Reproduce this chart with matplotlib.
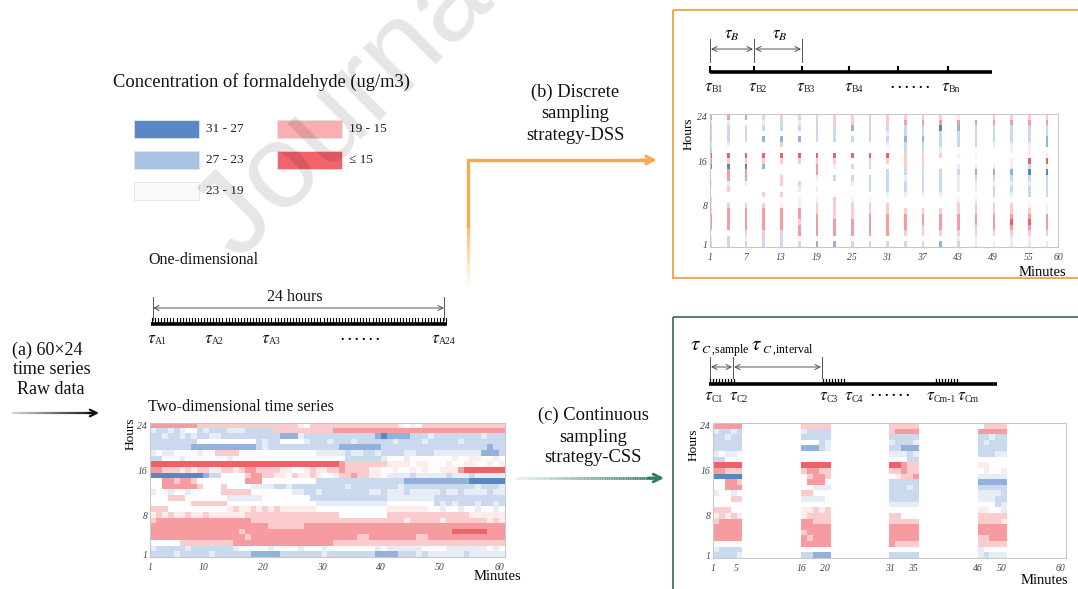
import numpy as np
import matplotlib
matplotlib.use('Agg')
import matplotlib.pyplot as plt
from matplotlib.colors import LinearSegmentedColormap, Normalize, to_rgba
from matplotlib.collections import LineCollection
from matplotlib.patches import Rectangle

plt.rcParams['font.family'] = ['Liberation Serif', 'DejaVu Serif']
plt.rcParams['mathtext.fontset'] = 'stix'

W, H = 1078, 589

# ---- data: formaldehyde concentration, 24 hours x 60 minutes ----
# one letter per minute, hour 24 on top ... hour 1 at the bottom
level_values = {'R': 14.0, 'r': 16.5, 'p': 18.5, 'q': 20.0, 'w': 21.0,
                'm': 22.5, 'l': 24.0, 'b': 26.5, 'B': 29.5}
raw_rows = [
    "rrrrrrrrpp pppppppppp pppppqwppp pppppppppp ppqwqwpppp pppppppppp",  # 24
    "mllmlmwwlm lllmmmllll lppppppppp prrrrrrrrr rrrrrrrrrr rrrrrrrrrr",  # 23
    "llmllmlmll mmllllllll llbbbmllll llllllllbB bbbblllmll llllllmlll",  # 22
    "llllllllww wwwwwwwwlm llwwwwmlll mlllmlllll lmllllmlll llmlllllll",  # 21
    "lllllllbbb bbbbbbbblm llllllllll llbbbbbbbl llllllllll lllllllbll",  # 20
    "mwmmwwwwmw wppppwwwww wwwwwwwwmm mmmlmmllml lllmmlllmm mmmmmmbbbl",  # 19
    "llwwwmwwww wwwmwwwwww wwwwwwwwww wwwllllllm wwwmwwwwww wqwwqqwwqw",  # 18
    "RRRRRRRRRR RRRRRRRRRR RRRRRRRRRR RRrppppppp qqqqwqqwww qwwqqwwqwq",  # 17
    "rrpppqpqpp qqppqprrpp ppqqwwqpqq pprppppqqw wqwwqwqwwq qqrRRRRRRR",  # 16
    "BBBBBBBBBb llwwwwprrp pqqwpqqpqw wqpprppqqw mmmmlmmmmm lmmmlmmmmm",  # 15
    "wwrrprrpww wwwwwwrrrw wwwwwwwwll llllllllll lllbbbbbbb bbbbBBBBBB",  # 14
    "wwrrrrrrpw wwpwwwwmmm mllmllllll lllmllllll llmlllllll lllllmlllm",  # 13
    "mwwmwwmwww wwpppppwww wwwwmmllml lllllllmml mmmlmmmmml mmlmmmmlmm",  # 12
    "wwwpppwwww wwwmmmmmmw wwwwwwwlll llllllllll mmmmmmmmll llllllllll",  # 11
    "wwwwwwwppp pppwwwwwww wwwwwwwwmm mmmmmmmmmm wwwwwwwwlm lmlllmllml",  # 10
    "pppwwwwwww wwwqpqqpqp qpqqqqqqww wwwwwwwwww qqqqqqqwwm wwmwwmwwmw",  # 9
    "qpqpqqpqqp qqqqqqpppp pppppppppp ppwwwwwwww pppppppppp ppppqqqqqq",  # 8
    "prrrrrrrrr rrrrrrrppp pppppppppp pppppppppp pppqpppppq pppppppqpq",  # 7
    "rrrrrrrrrr rrrrrrrrrr pppppprrrr rrrrrrrrrr rrrrrrrrrr rrrrrrrrrr",  # 6
    "rrrrrrrrrr rrrrrprrrr rrrrrrrrrr rrrrrrrrrr rrrrrrrrrr rRRRRRRrrr",  # 5
    "rrrrrrrrrr rrrrrrprrr rrrrrrrrrr rrrrrpprrr rrrrrpprrr rrrrrrrrrr",  # 4
    "wwwwwppppp pppprrrrrr rrrrrrrrrr rppppppppp pppppppppp pppppppppp",  # 3
    "mlllllmlll llllmwwwww mwwwwmwwwm wwwwwwwwmw mmmmmmwwww mmmmmmmwmw",  # 2
    "llllmlllll mllllllbbb bblllllllm llllllllbb bblllmlmmm mmmlmmmmmm",  # 1
]
legend_labels = ['31 - 27', '27 - 23', '23 - 19', '19 - 15', '\u2264 15']
legend_colors = ['#5a88c6', '#a9c2e3', '#f8f9fc', '#f9aeb1', '#f0646a']
dss_minutes = list(range(1, 61, 3))
css_blocks = [(1, 5), (16, 20), (31, 35), (46, 50)]
main_xticks = [1, 10, 20, 30, 40, 50, 60]
dss_xticks = [1, 7, 13, 19, 25, 31, 37, 43, 49, 55, 60]
css_xticks = [1, 5, 16, 20, 31, 35, 46, 50, 60]
hour_ticks = [1, 8, 16, 24]

Z = np.array([[level_values[c] for c in row.replace(' ', '')] for row in raw_rows])

stops = [13, 15, 17, 19.5, 21, 22.5, 25, 28, 31]
stop_colors = ['#ec4f58', '#f27479', '#f8aaae', '#fde3e4', '#ffffff',
               '#e8eef7', '#b8cce8', '#7399cf', '#4574b8']
cmap = LinearSegmentedColormap.from_list(
    'conc', [((s - 13) / 18, c) for s, c in zip(stops, stop_colors)])
cmap.set_bad('white')
norm = Normalize(13, 31)

fig = plt.figure(figsize=(W / 100, H / 100), dpi=100)
ax0 = fig.add_axes([0, 0, 1, 1])
ax0.set_xlim(0, W)
ax0.set_ylim(H, 0)
ax0.axis('off')


def px_axes(x0, y0, x1, y1):
    return fig.add_axes([x0 / W, 1 - y1 / H, (x1 - x0) / W, (y1 - y0) / H])


def style_heat(ax, xlim, xticks):
    ax.set_xlim(*xlim)
    ax.set_ylim(0.5, 24.5)
    ax.set_xticks(xticks)
    ax.set_yticks(hour_ticks)
    ax.tick_params(axis='x', length=0, pad=4, labelsize=7, labelcolor='#444')
    ax.tick_params(axis='y', length=0, pad=2, labelsize=7, labelcolor='#444')
    for lab in ax.get_xticklabels() + ax.get_yticklabels():
        lab.set_fontstyle('italic')
    for s in ax.spines.values():
        s.set_color('#c8c8c8')
        s.set_linewidth(0.8)


def grad_line(x0, y0, x1, y1, c0, c1, lw, n=80):
    xs = np.linspace(x0, x1, n + 1)
    ys = np.linspace(y0, y1, n + 1)
    segs = [[(xs[i], ys[i]), (xs[i + 1], ys[i + 1])] for i in range(n)]
    a, b = np.array(to_rgba(c0)), np.array(to_rgba(c1))
    t = np.linspace(0, 1, n)[:, None]
    ax0.add_collection(LineCollection(segs, colors=a + (b - a) * t,
                                      linewidths=lw, capstyle='butt'))


def darrow(xa, xb, y, color='#555555'):
    ax0.annotate('', xy=(xb, y), xytext=(xa, y),
                 arrowprops=dict(arrowstyle='<->', color=color, lw=0.7,
                                 mutation_scale=9, shrinkA=0, shrinkB=0))


def tau(x, y, sub, size=12.5, subsize=7):
    # big italic tau with a small upright subscript
    ax0.text(x, y, r'$\tau$', fontsize=size, ha='left', va='center', color='#111')
    ax0.text(x + 0.62 * size, y + 3, sub, fontsize=subsize, ha='left',
             va='center', color='#222')


# ---- legend ----
ax0.text(113, 82, 'Concentration of formaldehyde (ug/m3)', fontsize=13.3,
         ha='left', va='center', color='#111')
leg_pos = [(134, 120), (134, 151), (134, 182), (277, 120), (277, 151)]
for (x, y), lab, col in zip(leg_pos, legend_labels, legend_colors):
    ax0.add_patch(Rectangle((x, y), 65, 18, fc=col, ec='#e4e4e4', lw=0.6))
    ax0.text(x + 72, y + 9, lab, fontsize=9.5, ha='left', va='center', color='#222')

# ---- one-dimensional timeline ----
ax0.text(148, 260, 'One-dimensional', fontsize=11.5, ha='left', va='center', color='#111')
ax0.text(295, 297, '24 hours', fontsize=11.5, ha='center', va='center', color='#111')
ax0.plot([153, 153], [297, 320], color='#555', lw=0.7)
ax0.plot([444, 444], [297, 320], color='#555', lw=0.7)
darrow(153, 444, 308)
ax0.plot([151, 447], [323.5, 323.5], color='black', lw=2.6, solid_capstyle='butt')
for x in np.linspace(152, 446, 97):
    ax0.plot([x, x], [318, 323], color='black', lw=0.8)
for x, sub in [(147, 'A1'), (204, 'A2'), (261, 'A3'), (431, 'A24')]:
    tau(x, 339, sub)
ax0.text(360, 336, '. . . . . .', fontsize=10, ha='center', va='center', fontweight='bold')

# ---- (a) raw data ----
for x, y, s in [(47, 350, '(a) 60\u00d724'), (52, 370, 'time series'), (51, 390, 'Raw data')]:
    ax0.text(x, y, s, fontsize=13, ha='center', va='center', color='#111')
grad_line(12, 413, 94, 413, '#d8d8d8', '#111111', 1.6)
ax0.annotate('', xy=(99, 413), xytext=(88, 413),
             arrowprops=dict(arrowstyle='->', color='#111', lw=1.6,
                             mutation_scale=12, shrinkA=0, shrinkB=0))
ax0.text(148, 407, 'Two-dimensional time series', fontsize=11.6, ha='left',
         va='center', color='#111')

# ---- main heatmap ----
axm = px_axes(150, 423, 505, 557)
axm.imshow(Z, extent=(1, 61, 0.5, 24.5), aspect='auto', cmap=cmap, norm=norm,
           interpolation='nearest')
style_heat(axm, (1, 61), main_xticks)
ax0.text(131, 434, 'Hours', rotation=90, fontsize=9.5, ha='center', va='center')
ax0.text(497, 577, 'Minutes', fontsize=10.5, ha='center', va='center')

# ---- arrows to the strategies ----
grad_line(468, 288, 468, 225, '#ffffff', '#f6ac4c', 2.4)
ax0.plot([468, 468, 648], [226, 160, 160], color='#f6ac4c', lw=2.4,
         solid_joinstyle='miter')
ax0.annotate('', xy=(657, 160), xytext=(640, 160),
             arrowprops=dict(arrowstyle='->', color='#f6ac4c', lw=2.2,
                             mutation_scale=14, shrinkA=0, shrinkB=0))
for y, s in [(92, '(b) Discrete'), (113, 'sampling'), (135, 'strategy-DSS')]:
    ax0.text(575, y, s, fontsize=13.3, ha='center', va='center', color='#111')

grad_line(515, 478, 655, 478, '#e6f2ec', '#2f7d5b', 2.0)
ax0.annotate('', xy=(664, 478), xytext=(648, 478),
             arrowprops=dict(arrowstyle='->', color='#2f7d5b', lw=2.0,
                             mutation_scale=14, shrinkA=0, shrinkB=0))
for y, s in [(415, '(c) Continuous'), (437, 'sampling'), (458, 'strategy-CSS')]:
    ax0.text(593, y, s, fontsize=13.3, ha='center', va='center', color='#111')

# ---- (b) DSS panel ----
ax0.add_patch(Rectangle((673, 10), 430, 268, fill=False, ec='#eba24a', lw=1.3))
for x in [710, 754, 802]:
    ax0.plot([x, x], [39, 62], color='#555', lw=0.7)
darrow(711, 753, 49)
darrow(755, 801, 49)
ax0.text(732, 35, r'$\tau_{B}$', fontsize=12, ha='center', va='center')
ax0.text(780, 35, r'$\tau_{B}$', fontsize=12, ha='center', va='center')
ax0.plot([710, 992], [72, 72], color='black', lw=2.6, solid_capstyle='butt')
for x in [710, 754, 802, 849, 898, 948]:
    ax0.plot([x, x], [67, 72], color='black', lw=1.5)
for x, sub in [(704, 'B1'), (748, 'B2'), (796, 'B3'), (844, 'B4'), (941, 'Bn')]:
    tau(x, 87, sub)
ax0.text(910, 84, '. . . . . .', fontsize=10, ha='center', va='center', fontweight='bold')

axd = px_axes(710, 114, 1058, 247)
for m in dss_minutes:
    axd.pcolormesh([m - 0.1, m + 0.35], np.arange(0.5, 25.5, 1),
                   Z[::-1, m - 1:m], cmap=cmap, norm=norm)
style_heat(axd, (1, 60), dss_xticks)
ax0.text(689, 134, 'Hours', rotation=90, fontsize=9.5, ha='center', va='center')
ax0.text(1042, 272, 'Minutes', fontsize=10.5, ha='center', va='center')

# ---- (c) CSS panel ----
ax0.add_patch(Rectangle((673, 317), 430, 300, fill=False, ec='#3d7d5c', lw=1.3))
for x in [710, 733, 822]:
    ax0.plot([x, x], [357, 378], color='#555', lw=0.7)
darrow(711, 732, 367)
darrow(734, 821, 367)
ax0.text(690, 345, r'$\tau$', fontsize=15, ha='left', va='center')
ax0.text(701, 350, '$C$ ,sample', fontsize=8.5, ha='left', va='center')
ax0.text(751, 345, r'$\tau$', fontsize=15, ha='left', va='center')
ax0.text(762, 350, '$C$ ,interval', fontsize=8.5, ha='left', va='center')
ax0.plot([709, 997], [383.5, 383.5], color='black', lw=2.6, solid_capstyle='butt')
for xa, xb in [(709, 734), (822, 846), (935, 959)]:
    for x in np.arange(xa + 1, xb + 1, 3):
        ax0.plot([x, x], [378.5, 383], color='black', lw=0.9)
for x, sub in [(704, 'C1'), (729, 'C2'), (819, 'C3'), (844, 'C4'),
               (926, 'Cm-1'), (957, 'Cm')]:
    tau(x, 396, sub)
ax0.text(890, 393, '. . . . . .', fontsize=10, ha='center', va='center', fontweight='bold')

Zc = np.full(Z.shape, np.nan)
for a, b in css_blocks:
    Zc[:, a - 1:b] = Z[:, a - 1:b]
axc = px_axes(713, 423, 1066, 558)
axc.imshow(np.ma.masked_invalid(Zc), extent=(1, 61, 0.5, 24.5), aspect='auto',
           cmap=cmap, norm=norm, interpolation='nearest')
style_heat(axc, (1, 61), css_xticks)
ax0.text(694, 445, 'Hours', rotation=90, fontsize=9.5, ha='center', va='center')
ax0.text(1044, 580, 'Minutes', fontsize=10.5, ha='center', va='center')

# ---- watermark ----
ax0.text(238, 262, 'Journal Pre-proof', rotation=45, rotation_mode='anchor',
         fontsize=86, color='black', alpha=0.1, family='Liberation Sans',
         ha='left', va='baseline')

fig.savefig('out.png', dpi=100)
